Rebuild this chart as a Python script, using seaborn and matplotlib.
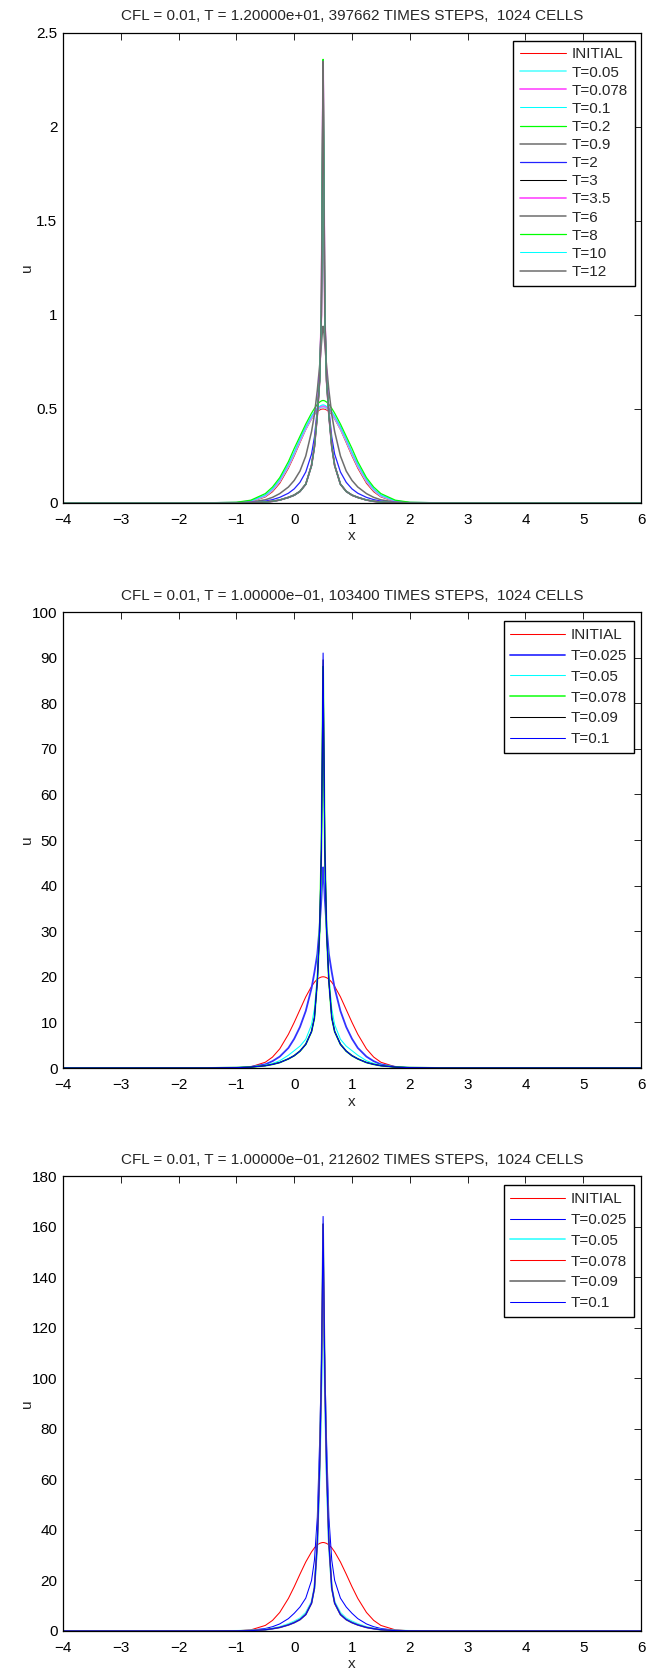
import matplotlib
matplotlib.use("Agg")
import matplotlib.pyplot as plt
import seaborn as sns
from matplotlib.ticker import FixedLocator, FuncFormatter

# ---------------- data ----------------
X = [-4.0, -1.5, -1.0, -0.75, -0.5, -0.375, -0.25, -0.1, 0.0, 0.1, 0.2, 0.3, 0.35, 0.4,
     0.44, 0.47, 0.49, 0.5, 0.51, 0.53, 0.56, 0.6, 0.65, 0.7, 0.8, 0.9, 1.0, 1.1, 1.25,
     1.375, 1.5, 1.75, 2.0, 2.5, 6.0]

X_TICKS = [-4, -3, -2, -1, 0, 1, 2, 3, 4, 5, 6]
Y_TICKS_1 = [0, 0.5, 1, 1.5, 2, 2.5]
Y_TICKS_2 = [0, 10, 20, 30, 40, 50, 60, 70, 80, 90, 100]
Y_TICKS_3 = [0, 20, 40, 60, 80, 100, 120, 140, 160, 180]

TITLE_1 = "CFL = 0.01, T = 1.20000e+01, 397662 TIMES STEPS,  1024 CELLS"
TITLE_2 = "CFL = 0.01, T = 1.00000e\u221201, 103400 TIMES STEPS,  1024 CELLS"
TITLE_3 = "CFL = 0.01, T = 1.00000e\u221201, 212602 TIMES STEPS,  1024 CELLS"

# panel 1
LABELS_1 = ["INITIAL", "T=0.05", "T=0.078", "T=0.1", "T=0.2", "T=0.9", "T=2", "T=3",
            "T=3.5", "T=6", "T=8", "T=10", "T=12"]
p1_init = [0, 0, 0.001, 0.0065, 0.032, 0.06, 0.105, 0.185, 0.25, 0.321, 0.39, 0.447, 0.47, 0.487, 0.495, 0.499, 0.5, 0.5, 0.5, 0.499, 0.495, 0.487, 0.47, 0.447, 0.39, 0.321, 0.25, 0.185, 0.105, 0.06, 0.032, 0.0065, 0.001, 0, 0]
p1_t005 = [0, 0, 0.002, 0.009, 0.037, 0.068, 0.115, 0.195, 0.26, 0.33, 0.395, 0.452, 0.476, 0.494, 0.503, 0.508, 0.51, 0.51, 0.51, 0.508, 0.503, 0.494, 0.476, 0.452, 0.395, 0.33, 0.26, 0.195, 0.115, 0.068, 0.037, 0.009, 0.002, 0, 0]
p1_t0078 = [0, 0, 0.002, 0.01, 0.04, 0.072, 0.12, 0.2, 0.265, 0.335, 0.4, 0.457, 0.48, 0.498, 0.508, 0.513, 0.515, 0.515, 0.515, 0.513, 0.508, 0.498, 0.48, 0.457, 0.4, 0.335, 0.265, 0.2, 0.12, 0.072, 0.04, 0.01, 0.002, 0, 0]
p1_t01 = [0, 0, 0.002, 0.011, 0.042, 0.075, 0.125, 0.205, 0.27, 0.34, 0.405, 0.462, 0.486, 0.504, 0.514, 0.52, 0.522, 0.522, 0.522, 0.52, 0.514, 0.504, 0.486, 0.462, 0.405, 0.34, 0.27, 0.205, 0.125, 0.075, 0.042, 0.011, 0.002, 0, 0]
p1_t02 = [0, 0.001, 0.004, 0.015, 0.05, 0.085, 0.135, 0.22, 0.29, 0.355, 0.42, 0.478, 0.503, 0.525, 0.537, 0.543, 0.545, 0.545, 0.545, 0.543, 0.537, 0.525, 0.503, 0.478, 0.42, 0.355, 0.29, 0.22, 0.135, 0.085, 0.05, 0.015, 0.004, 0.001, 0]
p1_t09 = [0, 0, 0.001, 0.005, 0.017, 0.03, 0.05, 0.085, 0.12, 0.17, 0.25, 0.38, 0.47, 0.6, 0.73, 0.84, 0.92, 0.94, 0.92, 0.84, 0.73, 0.6, 0.47, 0.38, 0.25, 0.17, 0.12, 0.085, 0.05, 0.03, 0.017, 0.005, 0.001, 0, 0]
p1_t2 = [0, 0, 0.001, 0.003, 0.01, 0.018, 0.03, 0.052, 0.075, 0.11, 0.165, 0.26, 0.35, 0.5, 0.68, 1.0, 1.65, 2.0, 1.65, 1.0, 0.68, 0.5, 0.35, 0.26, 0.165, 0.11, 0.075, 0.052, 0.03, 0.018, 0.01, 0.003, 0.001, 0, 0]
p1_t3 = [0, 0, 0, 0.0015, 0.005, 0.009, 0.015, 0.028, 0.04, 0.06, 0.1, 0.2, 0.3, 0.47, 0.65, 1.0, 1.86, 2.25, 1.86, 1.0, 0.65, 0.47, 0.3, 0.2, 0.1, 0.06, 0.04, 0.028, 0.015, 0.009, 0.005, 0.0015, 0, 0, 0]
p1_t35 = [0, 0, 0, 0.0015, 0.005, 0.009, 0.016, 0.03, 0.042, 0.062, 0.1, 0.2, 0.3, 0.47, 0.65, 1.0, 1.9, 2.33, 1.9, 1.0, 0.65, 0.47, 0.3, 0.2, 0.1, 0.062, 0.042, 0.03, 0.016, 0.009, 0.005, 0.0015, 0, 0, 0]
p1_t6 = [0, 0, 0, 0.0015, 0.005, 0.009, 0.016, 0.03, 0.042, 0.062, 0.1, 0.2, 0.3, 0.47, 0.65, 1.0, 1.92, 2.35, 1.92, 1.0, 0.65, 0.47, 0.3, 0.2, 0.1, 0.062, 0.042, 0.03, 0.016, 0.009, 0.005, 0.0015, 0, 0, 0]
p1_t8 = [0, 0, 0, 0.0015, 0.005, 0.009, 0.016, 0.03, 0.042, 0.062, 0.1, 0.2, 0.3, 0.47, 0.65, 1.0, 1.93, 2.36, 1.93, 1.0, 0.65, 0.47, 0.3, 0.2, 0.1, 0.062, 0.042, 0.03, 0.016, 0.009, 0.005, 0.0015, 0, 0, 0]
p1_t10 = [0, 0, 0, 0.0015, 0.005, 0.009, 0.016, 0.03, 0.042, 0.062, 0.1, 0.2, 0.3, 0.47, 0.65, 1.0, 1.92, 2.35, 1.92, 1.0, 0.65, 0.47, 0.3, 0.2, 0.1, 0.062, 0.042, 0.03, 0.016, 0.009, 0.005, 0.0015, 0, 0, 0]
p1_t12 = [0, 0, 0, 0.0015, 0.005, 0.009, 0.016, 0.03, 0.042, 0.062, 0.1, 0.2, 0.3, 0.47, 0.65, 1.0, 1.92, 2.35, 1.92, 1.0, 0.65, 0.47, 0.3, 0.2, 0.1, 0.062, 0.042, 0.03, 0.016, 0.009, 0.005, 0.0015, 0, 0, 0]

# panel 2
LABELS_2 = ["INITIAL", "T=0.025", "T=0.05", "T=0.078", "T=0.09", "T=0.1"]
p2_init = [0, 0, 0.04, 0.26, 1.26, 2.4, 4.2, 7.4, 10.0, 12.8, 15.6, 17.9, 18.8, 19.5, 19.8, 19.95, 20.0, 20.0, 20.0, 19.95, 19.8, 19.5, 18.8, 17.9, 15.6, 12.8, 10.0, 7.4, 4.2, 2.4, 1.26, 0.26, 0.04, 0, 0]
p2_t0025 = [0, 0.005, 0.06, 0.25, 0.8, 1.5, 2.5, 4.4, 6.4, 9.0, 12.5, 17.5, 21.0, 25.0, 31.0, 37.0, 42.0, 44.0, 42.0, 37.0, 31.0, 25.0, 21.0, 17.5, 12.5, 9.0, 6.4, 4.4, 2.5, 1.5, 0.8, 0.25, 0.06, 0.005, 0]
p2_t005 = [0, 0.01, 0.08, 0.22, 0.6, 1.0, 1.6, 2.8, 3.8, 4.8, 6.3, 9.5, 13.0, 20.0, 30.0, 45.0, 68.0, 80.0, 68.0, 45.0, 30.0, 20.0, 13.0, 9.5, 6.3, 4.8, 3.8, 2.8, 1.6, 1.0, 0.6, 0.22, 0.08, 0.01, 0]
p2_t0078 = [0, 0.01, 0.08, 0.2, 0.5, 0.8, 1.2, 2.0, 2.7, 3.7, 5.2, 8.0, 11.0, 19.0, 30.0, 48.0, 74.0, 88.0, 74.0, 48.0, 30.0, 19.0, 11.0, 8.0, 5.2, 3.7, 2.7, 2.0, 1.2, 0.8, 0.5, 0.2, 0.08, 0.01, 0]
p2_t009 = [0, 0.01, 0.08, 0.2, 0.5, 0.8, 1.2, 2.0, 2.7, 3.7, 5.2, 8.0, 11.0, 19.0, 30.0, 48.0, 75.0, 89.5, 75.0, 48.0, 30.0, 19.0, 11.0, 8.0, 5.2, 3.7, 2.7, 2.0, 1.2, 0.8, 0.5, 0.2, 0.08, 0.01, 0]
p2_t01 = [0, 0.01, 0.08, 0.2, 0.5, 0.8, 1.2, 2.0, 2.7, 3.7, 5.2, 8.0, 11.0, 19.0, 30.0, 48.0, 76.0, 91.0, 76.0, 48.0, 30.0, 19.0, 11.0, 8.0, 5.2, 3.7, 2.7, 2.0, 1.2, 0.8, 0.5, 0.2, 0.08, 0.01, 0]

# panel 3
LABELS_3 = ["INITIAL", "T=0.025", "T=0.05", "T=0.078", "T=0.09", "T=0.1"]
p3_init = [0, 0, 0.07, 0.45, 2.2, 4.2, 7.35, 12.9, 17.5, 22.5, 27.3, 31.3, 32.9, 34.1, 34.65, 34.9, 35.0, 35.0, 35.0, 34.9, 34.65, 34.1, 32.9, 31.3, 27.3, 22.5, 17.5, 12.9, 7.35, 4.2, 2.2, 0.45, 0.07, 0, 0]
p3_t0025 = [0, 0.01, 0.08, 0.3, 1.0, 1.7, 2.8, 4.9, 7.0, 9.5, 13.0, 20.0, 28.0, 45.0, 75.0, 105.0, 125.0, 133.0, 125.0, 105.0, 75.0, 45.0, 28.0, 20.0, 13.0, 9.5, 7.0, 4.9, 2.8, 1.7, 1.0, 0.3, 0.08, 0.01, 0]
p3_t005 = [0, 0.01, 0.05, 0.18, 0.55, 1.0, 1.6, 2.8, 3.8, 5.0, 7.2, 11.5, 17.0, 34.0, 62.0, 95.0, 130.0, 152.0, 130.0, 95.0, 62.0, 34.0, 17.0, 11.5, 7.2, 5.0, 3.8, 2.8, 1.6, 1.0, 0.55, 0.18, 0.05, 0.01, 0]
p3_t0078 = [0, 0.01, 0.04, 0.15, 0.5, 0.9, 1.4, 2.4, 3.3, 4.5, 6.5, 11.0, 17.0, 35.0, 65.0, 100.0, 138.0, 158.0, 138.0, 100.0, 65.0, 35.0, 17.0, 11.0, 6.5, 4.5, 3.3, 2.4, 1.4, 0.9, 0.5, 0.15, 0.04, 0.01, 0]
p3_t009 = [0, 0.01, 0.04, 0.15, 0.5, 0.9, 1.4, 2.4, 3.3, 4.5, 6.5, 11.0, 17.0, 35.0, 65.0, 100.0, 139.0, 161.0, 139.0, 100.0, 65.0, 35.0, 17.0, 11.0, 6.5, 4.5, 3.3, 2.4, 1.4, 0.9, 0.5, 0.15, 0.04, 0.01, 0]
p3_t01 = [0, 0.01, 0.04, 0.15, 0.5, 0.9, 1.4, 2.4, 3.3, 4.5, 6.5, 11.0, 17.0, 35.0, 65.0, 100.0, 141.0, 164.0, 141.0, 100.0, 65.0, 35.0, 17.0, 11.0, 6.5, 4.5, 3.3, 2.4, 1.4, 0.9, 0.5, 0.15, 0.04, 0.01, 0]

# ---------------- styling ----------------
sns.set_style("white")
plt.rcParams["font.family"] = ["Liberation Sans", "DejaVu Sans"]
plt.rcParams["axes.unicode_minus"] = True

RED, CYAN, MAG, GREEN, BLUE, BLACK = "#ff0000", "#00ffff", "#ff00ff", "#00ff00", "#0000ff", "#000000"
THIN, THICK = 0.75, 1.3
GRAY = "#6e6e6e"

styles_1 = [(RED, THIN), ("#66ffff", THICK), ("#ff55ff", THICK), (CYAN, THIN), (GREEN, 0.9),
            (GRAY, 1.1), ("#2222ff", 0.9), (BLACK, THIN), ("#ff55ff", THICK), (GRAY, 1.1),
            (GREEN, 0.9), (CYAN, THIN), (GRAY, 1.1)]
series_1 = [p1_init, p1_t005, p1_t0078, p1_t01, p1_t02, p1_t09, p1_t2, p1_t3, p1_t35, p1_t6,
            p1_t8, p1_t10, p1_t12]
styles_2 = [(RED, THIN), ("#3333ff", THICK), (CYAN, THIN), ("#33ff33", THICK), (BLACK, THIN), (BLUE, THIN)]
series_2 = [p2_init, p2_t0025, p2_t005, p2_t0078, p2_t009, p2_t01]
styles_3 = [(RED, THIN), (BLUE, THIN), ("#44ffff", THICK), (RED, THIN), (GRAY, 1.2), (BLUE, THIN)]
series_3 = [p3_init, p3_t0025, p3_t005, p3_t0078, p3_t009, p3_t01]

W, H = 646, 1675
fig = plt.figure(figsize=(W / 100, H / 100), dpi=100)
fig.patch.set_facecolor("white")

left = 63 / W
width = 578 / W
panels = [
    (33, 503, TITLE_1, LABELS_1, series_1, styles_1, Y_TICKS_1, (0.9896, 0.984), 0.27, 3.0),
    (612, 1068, TITLE_2, LABELS_2, series_2, styles_2, Y_TICKS_2, (0.988, 0.980), 0.45, 3.55),
    (1176, 1631, TITLE_3, LABELS_3, series_3, styles_3, Y_TICKS_3, (0.988, 0.980), 0.45, 3.55),
]

FS = 11
for top, bottom, title, labels, series, styles, yticks, anchor, lspace, hlen in panels:
    ax = fig.add_axes([left, 1 - bottom / H, width, (bottom - top) / H])
    for vals, lab, (col, lw) in zip(series, labels, styles):
        sns.lineplot(x=X, y=vals, ax=ax, color=col, linewidth=lw, label=lab,
                     estimator=None, sort=False, legend=False)
    ax.set_xlim(X_TICKS[0], X_TICKS[-1])
    ax.set_ylim(yticks[0], yticks[-1])
    ax.xaxis.set_major_locator(FixedLocator(X_TICKS))
    ax.yaxis.set_major_locator(FixedLocator(yticks))
    ax.yaxis.set_major_formatter(FuncFormatter(lambda v, p: f"{v:g}"))
    ax.xaxis.set_major_formatter(FuncFormatter(lambda v, p: f"{v:g}".replace("-", "\u2212")))
    ax.tick_params(direction="in", top=True, right=True, length=5, width=0.6,
                   labelsize=FS, colors="black")
    ax.tick_params(axis="x", pad=7)
    ax.tick_params(axis="y", pad=4)
    for sp in ax.spines.values():
        sp.set_visible(True)
        sp.set_color("black")
        sp.set_linewidth(0.9)
    ax.set_title(title, fontsize=FS, pad=9)
    ax.set_xlabel("x", fontsize=FS, labelpad=2)
    ax.set_ylabel("u", fontsize=FS)
    ax.yaxis.set_label_coords(-0.050, 0.5)
    leg = ax.legend(loc="upper right", bbox_to_anchor=anchor, borderaxespad=0, fontsize=FS,
                    frameon=True, fancybox=False, framealpha=1, edgecolor="black",
                    handlelength=hlen, handletextpad=0.4, labelspacing=lspace, borderpad=0.45)
    leg.get_frame().set_linewidth(1.0)

fig.savefig("out.png", dpi=100, facecolor="white")
